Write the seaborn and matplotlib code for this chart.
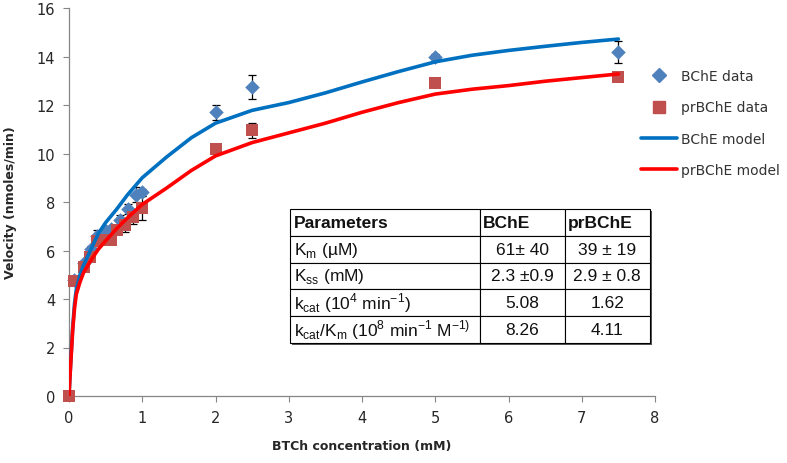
import numpy as np
import pandas as pd
import matplotlib
matplotlib.use("Agg")
import matplotlib.pyplot as plt
import seaborn as sns
from matplotlib.lines import Line2D
from matplotlib.patches import Rectangle

bche_x = [0.075, 0.2, 0.3, 0.38, 0.5, 0.58, 0.7, 0.81, 0.91, 1.0, 2.0, 2.5, 5.0, 7.5]
bche_y = [4.8, 5.5, 6.05, 6.6, 6.8, 6.9, 7.25, 7.72, 8.3, 8.4, 11.7, 12.75, 14.0, 14.17]
bche_err = [0, 0, 0.15, 0.25, 0.1, 0.1, 0.2, 0.2, 0.3, 0.15, 0.3, 0.5, 0.1, 0.45]

prbche_x = [0, 0.075, 0.2, 0.28, 0.38, 0.45, 0.58, 0.65, 0.76, 0.87, 1.0, 2.0, 2.5, 5.0, 7.5]
prbche_y = [0, 4.75, 5.3, 5.75, 6.4, 6.45, 6.45, 6.85, 7.05, 7.4, 7.75, 10.2, 10.95, 12.9, 13.15]
prbche_err = [0, 0, 0, 0, 0, 0, 0, 0.15, 0.3, 0.3, 0.5, 0, 0.3, 0, 0]

# model curves
model_x = [0, 0.01, 0.025, 0.05, 0.075, 0.1, 0.15, 0.2, 0.3, 0.4, 0.5, 0.65, 0.8, 1.0,
           1.33, 1.67, 2.0, 2.5, 3.0, 3.5, 4.0, 4.5, 5.0, 5.5, 6.0, 6.5, 7.0, 7.5]
bche_model = [0, 0.6, 1.5, 2.8, 3.8, 4.4, 5.0, 5.4, 6.05, 6.7, 7.15, 7.7, 8.3, 9.0,
              9.85, 10.65, 11.25, 11.78, 12.1, 12.5, 12.95, 13.38, 13.78, 14.05, 14.25, 14.42, 14.58, 14.72]
prbche_model = [0, 0.6, 1.4, 2.7, 3.6, 4.2, 4.7, 5.1, 5.6, 6.05, 6.4, 6.9, 7.35, 7.9,
                8.57, 9.3, 9.9, 10.45, 10.85, 11.25, 11.7, 12.1, 12.45, 12.65, 12.8, 12.98, 13.13, 13.28]

table_rows = [
    ["Parameters", "BChE", "prBChE"],
    ["K$_\\mathregular{m}$ (\u00b5M)", "61\u00b1 40", "39 \u00b1 19"],
    ["K$_\\mathregular{ss}$ (mM)", "2.3 \u00b10.9", "2.9 \u00b1 0.8"],
    ["k$_\\mathregular{cat}$ (10$^\\mathregular{4}$ min$^\\mathregular{-1}$)", "5.08", "1.62"],
    ["k$_\\mathregular{cat}$/K$_\\mathregular{m}$ (10$^\\mathregular{8}$ min$^\\mathregular{-1}$ M$^\\mathregular{-1)}$",
     "8.26", "4.11"],
]

blue_pts = "#4F81BD"
red_pts = "#C0504D"
blue_line = "#0070C0"
red_line = "#FF0000"

sns.set_theme(style="white")
plt.rcParams["font.family"] = ["DejaVu Sans"]

fig = plt.figure(figsize=(7.87, 4.64), dpi=100)
ax = fig.add_axes([69 / 787, 1 - 397 / 464, 586 / 787, 388 / 464])

df_b = pd.DataFrame({"x": bche_x, "y": bche_y})
df_r = pd.DataFrame({"x": prbche_x, "y": prbche_y})
df_m = pd.DataFrame({"x": model_x, "b": bche_model, "r": prbche_model})

ax.errorbar(bche_x, bche_y, yerr=bche_err, fmt="none", ecolor="black",
            elinewidth=0.9, capsize=3, capthick=0.9, zorder=2)
ax.errorbar(prbche_x, prbche_y, yerr=prbche_err, fmt="none", ecolor="black",
            elinewidth=0.9, capsize=3, capthick=0.9, zorder=2)
sns.scatterplot(data=df_b, x="x", y="y", ax=ax, marker="D", s=55, color=blue_pts,
                edgecolor=blue_pts, linewidth=0, zorder=3, clip_on=False)
sns.scatterplot(data=df_r, x="x", y="y", ax=ax, marker="s", s=85, color=red_pts,
                edgecolor=red_pts, linewidth=0, zorder=3, clip_on=False)
sns.lineplot(data=df_m, x="x", y="b", ax=ax, color=blue_line, linewidth=2.6,
             estimator=None, zorder=4)
sns.lineplot(data=df_m, x="x", y="r", ax=ax, color=red_line, linewidth=2.6,
             estimator=None, zorder=4)

ax.set_xlim(0, 8)
ax.set_ylim(0, 16)
ax.set_xticks(range(0, 9))
ax.set_yticks(range(0, 17, 2))
ax.tick_params(axis="both", direction="out", length=4, width=0.8, color="#868686",
               labelsize=10.5, labelcolor="#262626", bottom=True, left=True, pad=6)
for side in ["top", "right"]:
    ax.spines[side].set_visible(False)
for side in ["left", "bottom"]:
    ax.spines[side].set_color("#868686")
    ax.spines[side].set_linewidth(0.9)

ax.set_xlabel("BTCh concentration (mM)", fontsize=9, fontweight="bold", labelpad=10)
ax.set_ylabel("Velocity (nmoles/min)", fontsize=9, fontweight="bold", labelpad=14)

# parameter table
tx0, ty0, tw, th = 0.377, 0.137, 0.614, 0.345
ax.add_patch(Rectangle((tx0 + 0.004, ty0 - 0.006), tw, th, transform=ax.transAxes,
                       facecolor="#555555", edgecolor="none", zorder=5))
tbl = ax.table(cellText=table_rows, bbox=[tx0, ty0, tw, th],
               colWidths=[0.528, 0.236, 0.236], zorder=6)
tbl.auto_set_font_size(False)
tbl.set_fontsize(12.5)
for (r, c), cell in tbl.get_celld().items():
    cell.set_edgecolor("black")
    cell.set_linewidth(0.8)
    cell.set_facecolor("white")
    txt = cell.get_text()
    txt.set_fontfamily("Liberation Sans")
    txt.set_color("#111111")
    if c == 0 or r == 0:
        txt.set_ha("left")
        cell._loc = "left"
        cell.PAD = 0.02 if c == 0 else 0.04
    else:
        txt.set_ha("center")
        cell._loc = "center"
    if r == 0:
        txt.set_fontweight("bold")

handles = [
    Line2D([], [], marker="D", linestyle="none", color=blue_pts, markersize=7),
    Line2D([], [], marker="s", linestyle="none", color=red_pts, markersize=9),
    Line2D([], [], color=blue_line, linewidth=2.6),
    Line2D([], [], color=red_line, linewidth=2.6),
]
labels = ["BChE data", "prBChE data", "BChE model", "prBChE model"]
fig.legend(handles, labels, loc="upper left", bbox_to_anchor=(641 / 787, 1 - 70 / 464),
           frameon=False, fontsize=10, handlelength=2.6, handletextpad=0.3,
           labelspacing=1.25, borderaxespad=0, borderpad=0, labelcolor="#333333")

fig.savefig("out.png", dpi=100)
